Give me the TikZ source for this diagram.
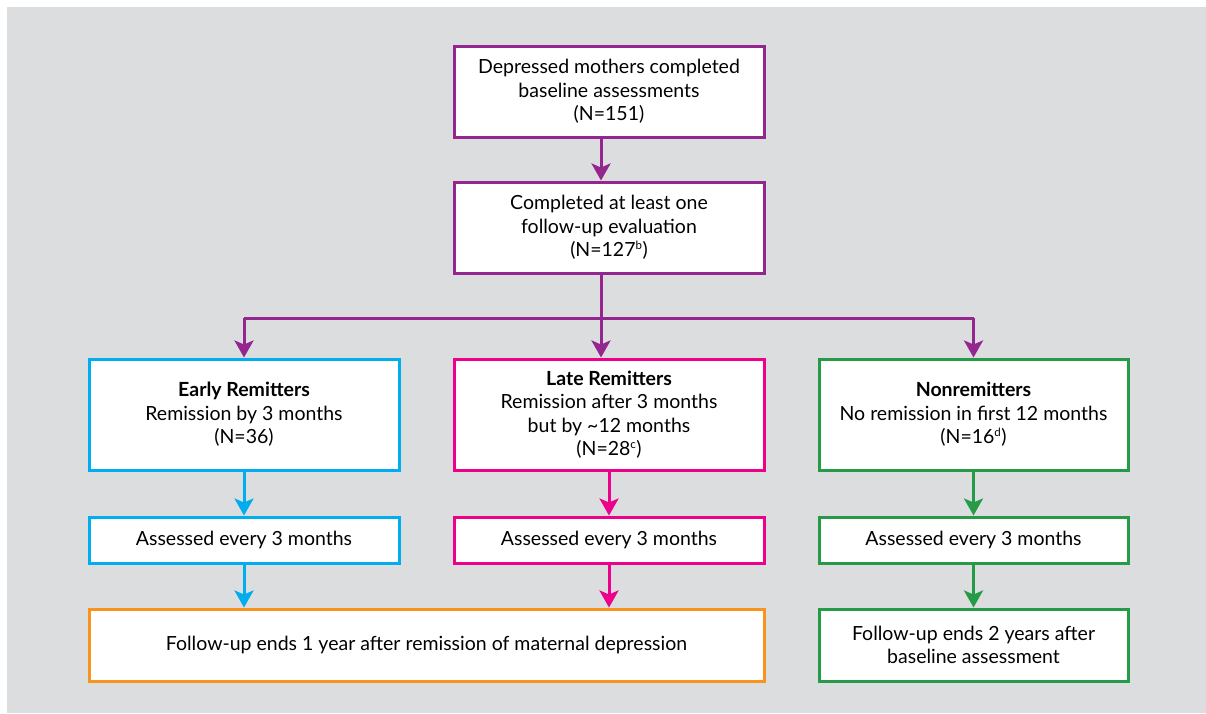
\documentclass[tikz,border=0pt]{standalone}
\usepackage{fontspec}
\setmainfont{Lato}
\usetikzlibrary{arrows.meta}

\definecolor{bggrey}{HTML}{DCDDDF}
\definecolor{purp}{HTML}{93278F}
\definecolor{cyanb}{HTML}{00AEEF}
\definecolor{magb}{HTML}{EC008C}
\definecolor{greenb}{HTML}{259B48}
\definecolor{orangeb}{HTML}{F7941D}

\newcommand{\sups}[1]{\textsuperscript{\fontsize{11.5}{11.5}\selectfont #1}}

\tikzset{
  flowbox/.style={draw, line width=3pt, fill=white, align=center,
    inner sep=2pt, font=\fontsize{19.5}{23.5}\selectfont},
  flowarrow/.style={line width=3pt, -{Stealth[length=17pt,width=19pt,inset=4pt]}},
}

\begin{document}
\begin{tikzpicture}[x=1pt,y=-1pt]
%\draw[help lines] (0,0) grid[step=50] (1206,713);
\useasboundingbox (0,0) rectangle (1206,713);
\fill[bggrey] (7,7) rectangle (1206,713);

 % top boxes
 \node[flowbox, draw=purp, minimum width=310pt, minimum height=91pt] (base) at (609,91.5)
   {Depressed mothers completed\\baseline assessments\\(N=151)};
 \node[flowbox, draw=purp, minimum width=310pt, minimum height=91pt] (fup) at (609,227.5)
   {Completed at least one\\follow-up evaluation\\(N=127\sups{b})};

 % groups
 \node[flowbox, draw=cyanb, minimum width=310pt, minimum height=111pt] (early) at (244,414.5)
   {\textbf{Early Remitters}\\Remission by 3 months\\(N=36)};
 \node[flowbox, draw=magb, minimum width=310pt, minimum height=111pt] (late) at (609,414.5)
   {\textbf{Late Remitters}\\Remission after 3 months\\but by \textasciitilde12 months\\(N=28\sups{c})};
 \node[flowbox, draw=greenb, minimum width=309pt, minimum height=111pt] (nonrem) at (973.5,414.5)
   {\textbf{Nonremitters}\\No remission in first 12 months\\(N=16\sups{d})};

 % assessments
 \node[flowbox, draw=cyanb, minimum width=310pt, minimum height=46pt] (assE) at (244,540)
   {Assessed every 3 months};
 \node[flowbox, draw=magb, minimum width=310pt, minimum height=46pt] (assL) at (609,540)
   {Assessed every 3 months};
 \node[flowbox, draw=greenb, minimum width=309pt, minimum height=46pt] (assN) at (973.5,540)
   {Assessed every 3 months};

 % end of follow-up
 \node[flowbox, draw=orangeb, minimum width=675pt, minimum height=72pt] (endrem) at (426.5,645)
   {Follow-up ends 1 year after remission of maternal depression};
 \node[flowbox, draw=greenb, minimum width=309pt, minimum height=72pt] (endnon) at (973.5,645)
   {Follow-up ends 2 years after\\baseline assessment};

 % connectors
 \coordinate (split) at ([xshift=-8pt]fup.south |- 0,318);
 \draw[flowarrow, purp] ([xshift=-8pt]base.south) -- ([xshift=-8pt]fup.north);
 \draw[line width=3pt, purp] ([xshift=-8pt]fup.south) -- (split);
 \draw[line width=3pt, purp] (early.north |- split) -- (nonrem.north |- split);
 \draw[flowarrow, purp] (early.north |- split) -- (early.north);
 \draw[flowarrow, purp] (split) -- ([xshift=-8pt]late.north);
 \draw[flowarrow, purp] (nonrem.north |- split) -- (nonrem.north);

 \draw[flowarrow, cyanb] (early) -- (assE);
 \draw[flowarrow, cyanb] (assE.south) -- (assE.south |- endrem.north);
 \draw[flowarrow, magb] (late) -- (assL);
 \draw[flowarrow, magb] (assL.south) -- (assL.south |- endrem.north);
 \draw[flowarrow, greenb] (nonrem) -- (assN);
 \draw[flowarrow, greenb] (assN) -- (endnon);

\end{tikzpicture}
\end{document}
